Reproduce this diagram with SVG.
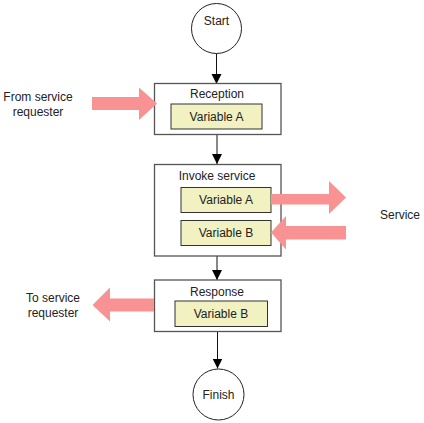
<svg xmlns="http://www.w3.org/2000/svg" width="424" height="423" viewBox="0 0 424 423">
<defs>
<style>
text{font-family:"Liberation Sans",Arial,sans-serif;font-size:12px;fill:#222;}
.c{text-anchor:middle;}
.term{fill:#fff;stroke:#222;stroke-width:1;}
.box{fill:#fff;stroke:#555;stroke-width:1.3;}
.var{fill:#F1F1C1;stroke:#333;stroke-width:1;}
.flow{fill:#F99292;stroke:none;}
.edge{stroke:#111;stroke-width:1;fill:none;}
</style>
<marker id="ah" markerWidth="10" markerHeight="12" refX="10" refY="6" orient="auto" markerUnits="userSpaceOnUse">
<path d="M0,1 L10,6 L0,11 Z" fill="#000"/>
</marker>
</defs>
<rect width="424" height="423" fill="#fff"/>
<g id="connectors">
<line class="edge" x1="216.5" y1="53" x2="216.5" y2="84" marker-end="url(#ah)"/>
<line class="edge" x1="217" y1="135" x2="217" y2="164" marker-end="url(#ah)"/>
<line class="edge" x1="217" y1="256" x2="217" y2="280" marker-end="url(#ah)"/>
<line class="edge" x1="217.5" y1="332" x2="217.5" y2="368.5" marker-end="url(#ah)"/>
</g>
<g id="start">
<circle class="term" cx="216.5" cy="28.5" r="25"/>
<text class="c" x="216.5" y="25">Start</text>
</g>
<g id="reception">
<rect class="box" x="154.5" y="83.5" width="126.5" height="51"/>
<text class="c" x="217" y="98">Reception</text>
<rect class="var" x="171" y="104" width="91" height="25"/>
<text class="c" x="216.5" y="120.5">Variable A</text>
</g>
<g id="invoke">
<rect class="box" x="154.5" y="164.5" width="126.5" height="91.5"/>
<text class="c" x="217" y="179.5">Invoke service</text>
<rect class="var" x="181" y="187.5" width="90" height="25"/>
<text class="c" x="226" y="204">Variable A</text>
<rect class="var" x="181" y="220.5" width="90" height="25"/>
<text class="c" x="226" y="237">Variable B</text>
</g>
<g id="response">
<rect class="box" x="154.5" y="280" width="126.5" height="51.5"/>
<text class="c" x="217" y="296">Response</text>
<rect class="var" x="175" y="301" width="92.5" height="25.5"/>
<text class="c" x="221" y="318">Variable B</text>
</g>
<g id="finish">
<circle class="term" cx="218.5" cy="394.5" r="25.5"/>
<text class="c" x="218.5" y="398.5">Finish</text>
</g>
<g id="flows">
<path class="flow" d="M92,97 L139,97 L139,87.5 L157,103.5 L139,120 L139,110 L92,110 Z"/>
<path class="flow" d="M271,194 L329,194 L329,181 L346,197.5 L329,214 L329,204.5 L271,204.5 Z"/>
<path class="flow" d="M346,226 L286,226 L286,216 L271,232.5 L286,249.5 L286,239.5 L346,239.5 Z"/>
<path class="flow" d="M154,298.5 L110,298.5 L110,287.5 L92.5,305 L110,321.5 L110,311.5 L154,311.5 Z"/>
</g>
<g id="labels">
<text class="c" x="38" y="101">From service</text>
<text class="c" x="38" y="116">requester</text>
<text class="c" x="400" y="218.5">Service</text>
<text class="c" x="53" y="302">To service</text>
<text class="c" x="53" y="317">requester</text>
</g>
</svg>
